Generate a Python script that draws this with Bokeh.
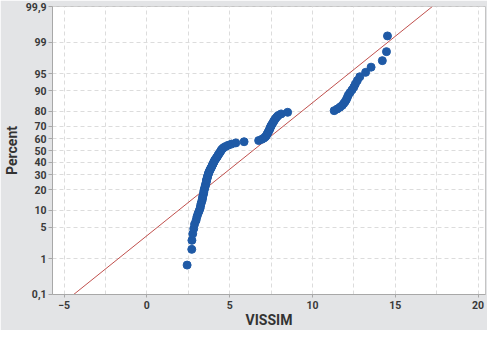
from statistics import NormalDist
from bokeh.plotting import figure
from bokeh.models import Range1d, FixedTicker, CustomJSTickFormatter, ColumnDataSource
from bokeh.embed import file_html
from bokeh.resources import INLINE

# Sorted VISSIM values (n = 100)
vissim = [
    2.43, 2.71, 2.72, 2.77, 2.83, 2.88, 2.97, 3.02, 3.08, 3.15,
    3.21, 3.24, 3.27, 3.31, 3.35, 3.36, 3.39, 3.42, 3.44, 3.45,
    3.48, 3.51, 3.53, 3.56, 3.58, 3.59, 3.61, 3.64, 3.66, 3.68,
    3.71, 3.73, 3.77, 3.80, 3.84, 3.88, 3.92, 3.95, 3.99, 4.02,
    4.06, 4.09, 4.14, 4.19, 4.24, 4.28, 4.32, 4.37, 4.42, 4.46,
    4.50, 4.56, 4.64, 4.76, 4.91, 5.11, 5.37, 5.87, 6.75, 6.94,
    7.06, 7.15, 7.21, 7.25, 7.29, 7.33, 7.37, 7.41, 7.44, 7.47,
    7.51, 7.56, 7.61, 7.66, 7.71, 7.77, 7.85, 7.93, 8.11, 8.50,
    11.31, 11.50, 11.66, 11.80, 11.89, 11.98, 12.05, 12.11, 12.17, 12.27,
    12.39, 12.50, 12.59, 12.71, 12.86, 13.21, 13.54, 14.22, 14.47, 14.53,
]

# Fitted normal line
fit_mean = 6.41
fit_sd = 3.505

# Probability axis ticks
pct_ticks = [0.1, 1, 5, 10, 20, 30, 40, 50, 60, 70, 80, 90, 95, 99, 99.9]
pct_labels = ["0,1", "1", "5", "10", "20", "30", "40", "50", "60", "70",
              "80", "90", "95", "99", "99,9"]
x_ticks = [-5, 0, 5, 10, 15, 20]
x_minor = [-2.5, 2.5, 7.5, 12.5, 17.5]

nd = NormalDist()
n = len(vissim)
# Median-rank plotting positions
probs = [(i + 1 - 0.3) / (n + 0.4) for i in range(n)]
zvals = [nd.inv_cdf(p) for p in probs]
ztick = [nd.inv_cdf(p / 100.0) for p in pct_ticks]
zlo, zhi = nd.inv_cdf(0.001), nd.inv_cdf(0.999)
eps = 1e-6
x0, x1 = -5.70, 20.45

p = figure(width=487, height=330, output_backend="svg", toolbar_location=None,
           x_range=Range1d(x0, x1), y_range=Range1d(zlo - eps, zhi + eps),
           min_border_left=45, min_border_right=2, min_border_top=6,
           min_border_bottom=30)

bg = "#e3e4e6"
p.border_fill_color = bg
p.background_fill_color = "white"
p.outline_line_color = "#c4c4c4"
p.outline_line_width = 1

# Fit line
line_src = ColumnDataSource(dict(x=[fit_mean + fit_sd * zlo, fit_mean + fit_sd * zhi],
                                 y=[zlo, zhi]))
p.line("x", "y", source=line_src, line_color="#c0504d", line_width=1)

src = ColumnDataSource(dict(x=vissim, y=zvals))
p.scatter("x", "y", source=src, size=8, fill_color="#1f5aa6", line_color="#1f5aa6")

# Axes
font = "Roboto"
p.xaxis.ticker = FixedTicker(ticks=x_ticks, minor_ticks=x_minor)
p.yaxis.ticker = FixedTicker(ticks=ztick)
p.yaxis.formatter = CustomJSTickFormatter(args=dict(zs=ztick, labs=pct_labels), code="""
let best = 0, bd = 1e9;
for (let i = 0; i < zs.length; i++) { const d = Math.abs(zs[i] - tick); if (d < bd) { bd = d; best = i; } }
return labs[best];
""")

for ax in (p.xaxis[0], p.yaxis[0]):
    ax.axis_line_color = "#a8a8a8"
    ax.major_tick_line_color = "#a8a8a8"
    ax.major_tick_out = 4
    ax.major_tick_in = 0
    ax.minor_tick_line_color = None
    ax.major_label_text_font = font
    ax.major_label_text_font_size = "10.5px"
    ax.major_label_text_font_style = "bold"
    ax.major_label_text_color = "#3a3a3a"
    ax.axis_label_text_font = font
    ax.axis_label_text_font_size = "14px"
    ax.axis_label_text_font_style = "bold"
    ax.axis_label_text_color = "#333333"

p.xaxis.major_tick_out = 3
p.xaxis.major_label_standoff = 2
p.xaxis.axis_label_standoff = 0
p.yaxis.major_label_standoff = 2
p.yaxis.axis_label_standoff = 3

p.xaxis.axis_label = "VISSIM"
p.yaxis.axis_label = "Percent"

grid_col = "#dcdcdc"
p.xgrid.grid_line_color = grid_col
p.xgrid.grid_line_dash = "4 3"
p.xgrid.minor_grid_line_color = grid_col
p.xgrid.minor_grid_line_dash = "4 3"
p.ygrid.grid_line_color = grid_col
p.ygrid.grid_line_dash = "4 3"

open("out.html", "w").write(file_html(p, INLINE))
